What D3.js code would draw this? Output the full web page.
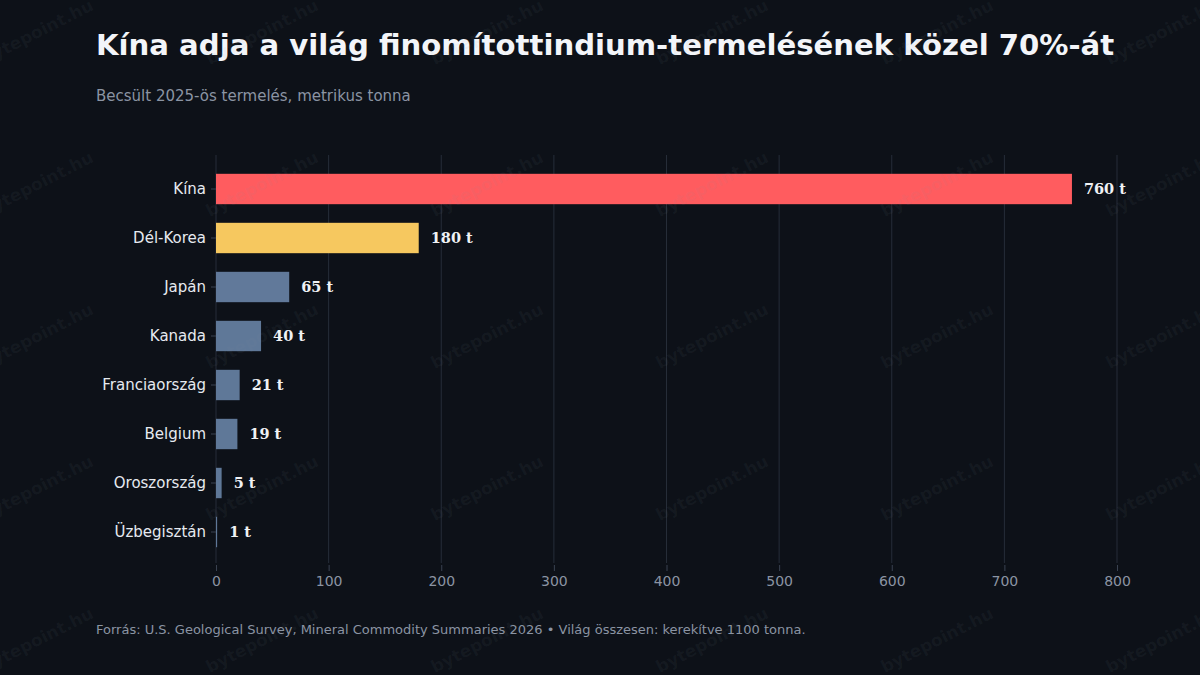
<!DOCTYPE html>
<html>
<head>
<meta charset="utf-8">
<script src="https://cdn.jsdelivr.net/npm/d3@7"></script>
<style>
  html, body { margin: 0; padding: 0; background: #0d1118; }
  svg { display: block; }
</style>
</head>
<body>
<div id="chart"></div>
<script>
// adatok
const countries = ["Kína", "Dél-Korea", "Japán", "Kanada", "Franciaország", "Belgium", "Oroszország", "Üzbegisztán"];
const tonnes = [760, 180, 65, 40, 21, 19, 5, 1];
const barColors = ["#ff5c5f", "#f6c85f", "#61799a", "#5f7898", "#5f7898", "#5f7898", "#5f7898", "#5f7898"];
const xTicks = [0, 100, 200, 300, 400, 500, 600, 700, 800];

const titleText = "Kína adja a világ finomítottindium-termelésének közel 70%-át";
const subtitleText = "Becsült 2025-ös termelés, metrikus tonna";
const footerText = "Forrás: U.S. Geological Survey, Mineral Commodity Summaries 2026 • Világ összesen: kerekítve 1100 tonna.";

const W = 1200, H = 675;
const sans = "'DejaVu Sans', sans-serif";

const svg = d3.select("#chart").append("svg")
  .attr("width", W)
  .attr("height", H);

svg.append("rect").attr("width", W).attr("height", H).attr("fill", "#0d1118");

// skálák
const x = d3.scaleLinear().domain([0, 800]).range([216, 1117]);
const y = d3.scaleBand().domain(countries).range([164.5, 556.5])
  .paddingInner(0.38).paddingOuter(0.19);

// rácsvonalak
svg.append("g")
  .selectAll("line")
  .data(xTicks)
  .join("line")
    .attr("x1", d => x(d)).attr("x2", d => x(d))
    .attr("y1", 155).attr("y2", 563)
    .attr("stroke", "#262d38")
    .attr("stroke-width", 1);

// x tengely
const xAxis = svg.append("g")
  .attr("transform", "translate(0,565)")
  .call(d3.axisBottom(x).tickValues(xTicks).tickSize(6).tickPadding(5).tickFormat(d3.format("d")));
xAxis.select(".domain").remove();
xAxis.selectAll(".tick line").attr("stroke", "#3a4250");
xAxis.selectAll(".tick text")
  .attr("fill", "#8b94a3")
  .style("font-family", sans)
  .style("font-size", "14px");

// y tengely
const yAxis = svg.append("g")
  .attr("transform", "translate(216,0)")
  .call(d3.axisLeft(y).tickSize(5).tickPadding(5));
yAxis.select(".domain").remove();
yAxis.selectAll(".tick line").attr("stroke", "#3a4250");
yAxis.selectAll(".tick text")
  .attr("fill", "#e6eaf0")
  .style("font-family", sans)
  .style("font-size", "15px");

// oszlopok
svg.append("g")
  .selectAll("rect")
  .data(countries)
  .join("rect")
    .attr("x", x(0))
    .attr("y", d => y(d))
    .attr("width", (d, i) => x(tonnes[i]) - x(0))
    .attr("height", y.bandwidth())
    .attr("fill", (d, i) => barColors[i]);

// értékcímkék
svg.append("g")
  .selectAll("text")
  .data(countries)
  .join("text")
    .attr("x", (d, i) => x(tonnes[i]) + 12)
    .attr("y", d => y(d) + y.bandwidth() / 2)
    .attr("dy", "0.35em")
    .attr("fill", "#f0f2f5")
    .style("font-family", "'DejaVu Serif', serif")
    .style("font-weight", "bold")
    .style("font-size", "14.5px")
    .text((d, i) => tonnes[i] + " t");

// cím, alcím, forrás
svg.append("text")
  .attr("x", 96).attr("y", 55)
  .attr("fill", "#f3f5f9")
  .style("font-family", sans)
  .style("font-weight", "bold")
  .style("font-size", "29.15px")
  .text(titleText);

svg.append("text")
  .attr("x", 96).attr("y", 101)
  .attr("fill", "#8b94a3")
  .style("font-family", sans)
  .style("font-size", "15px")
  .text(subtitleText);

svg.append("text")
  .attr("x", 96).attr("y", 634)
  .attr("fill", "#8b94a3")
  .style("font-family", sans)
  .style("font-size", "13px")
  .text(footerText);

// vízjel
const wmX = d3.range(-188, 1300, 225);
const wmY = d3.range(32, 700, 152);
const wm = svg.append("g").attr("pointer-events", "none");
wmY.forEach(yy => {
  wmX.forEach(xx => {
    wm.append("text")
      .attr("transform", "translate(" + xx + "," + yy + ") rotate(-27)")
      .attr("text-anchor", "middle")
      .attr("dy", "0.35em")
      .attr("fill", "#8b94a3")
      .attr("fill-opacity", 0.07)
      .style("font-family", sans)
      .style("font-weight", "bold")
      .style("font-size", "17px")
      .text("bytepoint.hu");
  });
});
</script>
</body>
</html>
